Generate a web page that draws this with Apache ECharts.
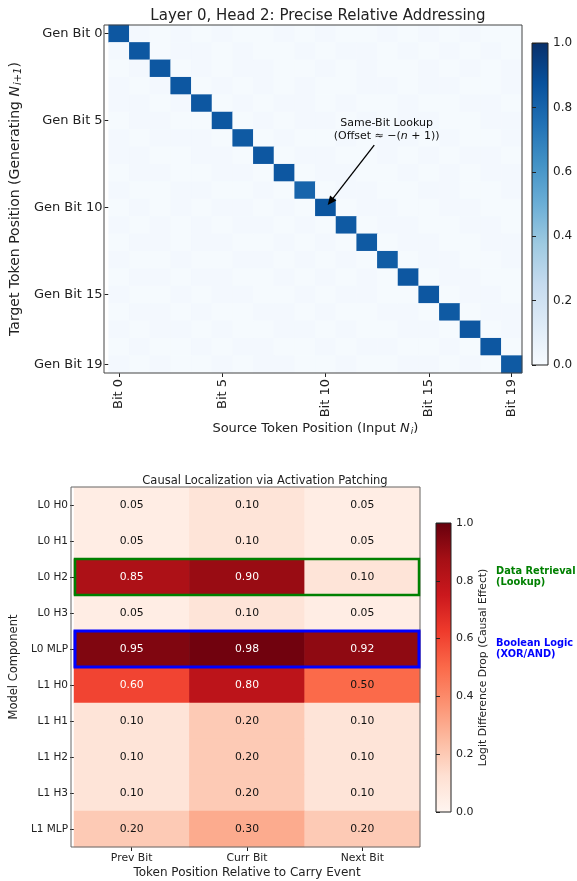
<!DOCTYPE html>
<html><head><meta charset="utf-8">
<script src="https://cdn.jsdelivr.net/npm/echarts@6/dist/echarts.min.js"></script>
<style>html,body{margin:0;padding:0;background:#fff}#c{width:577px;height:881px}</style>
</head><body><div id="c"></div>
<script>
// ---------- DATA ----------
const srcLabels = ["Bit 0","Bit 1","Bit 2","Bit 3","Bit 4","Bit 5","Bit 6","Bit 7","Bit 8","Bit 9","Bit 10","Bit 11","Bit 12","Bit 13","Bit 14","Bit 15","Bit 16","Bit 17","Bit 18","Bit 19"];
const tgtLabels = ["Gen Bit 0","Gen Bit 1","Gen Bit 2","Gen Bit 3","Gen Bit 4","Gen Bit 5","Gen Bit 6","Gen Bit 7","Gen Bit 8","Gen Bit 9","Gen Bit 10","Gen Bit 11","Gen Bit 12","Gen Bit 13","Gen Bit 14","Gen Bit 15","Gen Bit 16","Gen Bit 17","Gen Bit 18","Gen Bit 19"];
const shownTicks = [0,5,10,15,19];
// attention weights (rows = target, cols = source)
const attention = [
 [0.85,0.02,0.01,0.02,0.01,0.02,0.01,0.01,0.02,0.01,0.02,0.01,0.01,0.02,0.01,0.02,0.01,0.02,0.01,0.01],
 [0.02,0.85,0.01,0.02,0.02,0.01,0.02,0.01,0.01,0.02,0.01,0.02,0.02,0.01,0.02,0.01,0.02,0.01,0.02,0.01],
 [0.01,0.02,0.85,0.01,0.02,0.01,0.02,0.02,0.01,0.01,0.02,0.01,0.02,0.01,0.01,0.02,0.01,0.02,0.01,0.02],
 [0.02,0.01,0.02,0.85,0.01,0.02,0.01,0.02,0.01,0.02,0.01,0.01,0.02,0.02,0.01,0.02,0.02,0.01,0.01,0.02],
 [0.02,0.02,0.01,0.02,0.85,0.01,0.02,0.01,0.02,0.02,0.01,0.02,0.01,0.01,0.02,0.01,0.01,0.02,0.02,0.01],
 [0.01,0.02,0.02,0.01,0.01,0.85,0.01,0.02,0.01,0.02,0.02,0.01,0.02,0.01,0.02,0.02,0.01,0.01,0.02,0.02],
 [0.02,0.01,0.02,0.02,0.02,0.01,0.84,0.01,0.02,0.01,0.01,0.02,0.01,0.02,0.02,0.01,0.02,0.01,0.01,0.02],
 [0.02,0.02,0.01,0.01,0.02,0.02,0.01,0.85,0.01,0.02,0.02,0.01,0.01,0.02,0.01,0.02,0.01,0.02,0.02,0.01],
 [0.01,0.02,0.02,0.01,0.01,0.02,0.02,0.01,0.85,0.01,0.02,0.02,0.01,0.01,0.02,0.01,0.02,0.01,0.02,0.02],
 [0.02,0.01,0.01,0.02,0.02,0.01,0.01,0.02,0.01,0.80,0.01,0.02,0.02,0.01,0.01,0.02,0.02,0.01,0.01,0.02],
 [0.01,0.02,0.01,0.02,0.01,0.02,0.02,0.01,0.02,0.01,0.86,0.01,0.02,0.02,0.01,0.01,0.02,0.02,0.01,0.01],
 [0.02,0.01,0.02,0.01,0.02,0.01,0.02,0.02,0.01,0.02,0.01,0.84,0.01,0.02,0.02,0.01,0.01,0.02,0.02,0.01],
 [0.01,0.02,0.02,0.01,0.02,0.02,0.01,0.01,0.02,0.01,0.02,0.01,0.84,0.01,0.02,0.02,0.01,0.01,0.02,0.02],
 [0.02,0.01,0.01,0.02,0.01,0.01,0.02,0.02,0.01,0.02,0.01,0.02,0.01,0.83,0.01,0.02,0.02,0.01,0.01,0.02],
 [0.01,0.02,0.02,0.01,0.02,0.02,0.01,0.01,0.02,0.01,0.02,0.01,0.02,0.01,0.85,0.01,0.02,0.02,0.01,0.01],
 [0.02,0.01,0.01,0.02,0.01,0.02,0.02,0.01,0.01,0.02,0.01,0.02,0.02,0.01,0.01,0.85,0.01,0.02,0.02,0.01],
 [0.01,0.02,0.02,0.01,0.02,0.01,0.01,0.02,0.02,0.01,0.02,0.01,0.01,0.02,0.02,0.01,0.84,0.01,0.02,0.02],
 [0.02,0.01,0.02,0.02,0.01,0.02,0.01,0.01,0.02,0.02,0.01,0.02,0.01,0.01,0.02,0.02,0.01,0.85,0.01,0.02],
 [0.01,0.02,0.01,0.01,0.02,0.01,0.02,0.02,0.01,0.01,0.02,0.01,0.02,0.02,0.01,0.01,0.02,0.01,0.85,0.01],
 [0.02,0.01,0.02,0.01,0.01,0.02,0.01,0.02,0.02,0.01,0.01,0.02,0.01,0.01,0.02,0.02,0.01,0.02,0.01,0.84]
];
const posLabels = ["Prev Bit","Curr Bit","Next Bit"];
const compLabels = ["L0 H0","L0 H1","L0 H2","L0 H3","L0 MLP","L1 H0","L1 H1","L1 H2","L1 H3","L1 MLP"];
const causalEffect = [
 [0.05,0.10,0.05],
 [0.05,0.10,0.05],
 [0.85,0.90,0.10],
 [0.05,0.10,0.05],
 [0.95,0.98,0.92],
 [0.60,0.80,0.50],
 [0.10,0.20,0.10],
 [0.10,0.20,0.10],
 [0.10,0.20,0.10],
 [0.20,0.30,0.20]
];
const retrievalRow = 2, logicRow = 4;

// ---------- STYLE ----------
const FONT = "DejaVu Sans";
const BLUES = ['#f7fbff','#deebf7','#c6dbef','#9ecae1','#6baed6','#4292c6','#2171b5','#08519c','#08306b'];
const REDS  = ['#fff5f0','#fee0d2','#fcbba1','#fc9272','#fb6a4a','#ef3b2c','#cb181d','#a50f15','#67000d'];
function grad(cols){return {type:'linear',x:0,y:1,x2:0,y2:0,colorStops:cols.map((c,i)=>({offset:i/(cols.length-1),color:c}))};}

const G1 = {left:104, top:25, width:418, height:348};
const C1 = {left:532, top:43, width:16, height:322};
const G2 = {left:71, top:487, width:349, height:360};
const C2 = {left:436, top:523, width:15, height:289};

const topData = [];
attention.forEach((row,r)=>row.forEach((v,c)=>topData.push([c,r,v])));
const botData = [];
causalEffect.forEach((row,r)=>row.forEach((v,c)=>botData.push({value:[c,r,v],label:{color: v>0.5?'#ffffff':'#111111'}})));

const chart = echarts.init(document.getElementById('c'),null,{renderer:'canvas'});
function nameRich(fs){return {t:{fontSize:fs,color:'#222',fontFamily:FONT},i:{fontSize:fs,fontStyle:'italic',color:'#222',fontFamily:FONT},s:{fontSize:Math.round(fs*0.68),fontStyle:'italic',color:'#222',fontFamily:FONT,verticalAlign:'bottom',padding:[6,0,0,1]}};}

const option = {
  animation:false,
  textStyle:{fontFamily:FONT},
  title:[
    {text:'Layer 0, Head 2: Precise Relative Addressing', left:313, top:4, textAlign:'center',
     textStyle:{fontSize:15, fontWeight:'normal', color:'#222', fontFamily:FONT}},
    {text:'Causal Localization via Activation Patching', left:260, top:470, textAlign:'center',
     textStyle:{fontSize:11.5, fontWeight:'normal', color:'#222', fontFamily:FONT}}
  ],
  grid:[
    Object.assign({containLabel:false},G1),
    Object.assign({containLabel:false, show:true, backgroundColor:grad(BLUES), borderWidth:0},C1),
    Object.assign({containLabel:false},G2),
    Object.assign({containLabel:false, show:true, backgroundColor:grad(REDS), borderWidth:0},C2)
  ],
  xAxis:[
    {type:'category', gridIndex:0, data:srcLabels, position:'bottom',
     name:'{t|Source Token Position (Input }{i|N}{s|i}{t|)}', nameLocation:'middle', nameGap:48,
     nameTextStyle:{rich:nameRich(13)},
     axisLine:{show:false}, splitLine:{show:false},
     axisTick:{show:true, alignWithLabel:true, length:4, interval:(i)=>shownTicks.includes(i), lineStyle:{color:'#222'}},
     axisLabel:{rotate:90, margin:6, fontSize:13, color:'#222', fontFamily:FONT, interval:(i)=>shownTicks.includes(i)}},
    {type:'value', gridIndex:1, show:false, min:0, max:1},
    {type:'category', gridIndex:2, data:posLabels, position:'bottom',
     name:'Token Position Relative to Carry Event', nameLocation:'middle', nameGap:20,
     nameTextStyle:{fontSize:12, color:'#222', fontFamily:FONT},
     axisLine:{show:false}, splitLine:{show:false},
     axisTick:{show:true, alignWithLabel:true, length:4, lineStyle:{color:'#222'}},
     axisLabel:{margin:6, fontSize:10.8, color:'#222', fontFamily:FONT}},
    {type:'value', gridIndex:3, show:false, min:0, max:1}
  ],
  yAxis:[
    {type:'category', gridIndex:0, data:tgtLabels, inverse:true,
     name:'{t|Target Token Position (Generating }{i|N}{s|i+1}{t|)}', nameLocation:'middle', nameGap:78, nameRotate:90,
     nameTextStyle:{rich:nameRich(14)},
     axisLine:{show:false}, splitLine:{show:false},
     axisTick:{show:true, alignWithLabel:true, length:4, interval:(i)=>shownTicks.includes(i), lineStyle:{color:'#222'}},
     axisLabel:{margin:6, fontSize:13, color:'#222', fontFamily:FONT, interval:(i)=>shownTicks.includes(i)}},
    {type:'value', gridIndex:1, position:'right', min:0, max:1, interval:0.2,
     axisLine:{show:false}, splitLine:{show:false},
     axisTick:{show:true, length:4, lineStyle:{color:'#222'}},
     axisLabel:{margin:5, fontSize:12, color:'#222', fontFamily:FONT, formatter:(v)=>v.toFixed(1)}},
    {type:'category', gridIndex:2, data:compLabels, inverse:true,
     name:'Model Component', nameLocation:'middle', nameGap:51, nameRotate:90,
     nameTextStyle:{fontSize:11.5, color:'#222', fontFamily:FONT},
     axisLine:{show:false}, splitLine:{show:false},
     axisTick:{show:true, alignWithLabel:true, length:4, lineStyle:{color:'#222'}},
     axisLabel:{margin:6, fontSize:10.5, color:'#222', fontFamily:FONT}},
    {type:'value', gridIndex:3, position:'right', min:0, max:1, interval:0.2,
     name:'Logit Difference Drop (Causal Effect)', nameLocation:'middle', nameGap:27, nameRotate:90,
     nameTextStyle:{fontSize:10.8, color:'#222', fontFamily:FONT},
     axisLine:{show:false}, splitLine:{show:false},
     axisTick:{show:true, length:4, lineStyle:{color:'#222'}},
     axisLabel:{margin:5, fontSize:11, color:'#222', fontFamily:FONT, formatter:(v)=>v.toFixed(1)}}
  ],
  visualMap:[
    {type:'continuous', show:false, min:0, max:1, seriesIndex:0, dimension:2, inRange:{color:BLUES}},
    {type:'continuous', show:false, min:0, max:1, seriesIndex:1, dimension:2, inRange:{color:REDS}}
  ],
  series:[
    {type:'heatmap', xAxisIndex:0, yAxisIndex:0, data:topData, itemStyle:{borderWidth:0}},
    {type:'heatmap', xAxisIndex:2, yAxisIndex:2, data:botData, itemStyle:{borderWidth:0},
     label:{show:true, fontSize:10.8, fontFamily:FONT, formatter:(p)=>p.value[2].toFixed(2)}}
  ]
};
chart.setOption(option);

// ---------- overlays positioned through the axes ----------
function cellPix(ax, cx, cy){
  const x0 = chart.convertToPixel({xAxisIndex:ax.x}, ax.xcats[0]);
  const x1 = chart.convertToPixel({xAxisIndex:ax.x}, ax.xcats[1]);
  const y0 = chart.convertToPixel({yAxisIndex:ax.y}, ax.ycats[0]);
  const y1 = chart.convertToPixel({yAxisIndex:ax.y}, ax.ycats[1]);
  return [x0+(x1-x0)*cx, y0+(y1-y0)*cy];
}
const topAx = {x:0, y:0, xcats:[srcLabels[0],srcLabels[1]], ycats:[tgtLabels[0],tgtLabels[1]]};
const botAx = {x:2, y:2, xcats:[posLabels[0],posLabels[1]], ycats:[compLabels[0],compLabels[1]]};

const arrowTo = cellPix(topAx, 10.1, 9.85);
const arrowFrom = cellPix(topAx, 12.35, 6.4);
const ang = Math.atan2(arrowTo[1]-arrowFrom[1], arrowTo[0]-arrowFrom[0]);
const hl = 9, hw = 4;
const head = [
  arrowTo,
  [arrowTo[0]-hl*Math.cos(ang)+hw*Math.sin(ang), arrowTo[1]-hl*Math.sin(ang)-hw*Math.cos(ang)],
  [arrowTo[0]-hl*Math.cos(ang)-hw*Math.sin(ang), arrowTo[1]-hl*Math.sin(ang)+hw*Math.cos(ang)]
];
const annPos = cellPix(topAx, 12.95, 5.5);

function rowRect(ax, row, color, lw){
  const a = cellPix(ax, -0.5, row-0.5), b = cellPix(ax, 2.5, row+0.5);
  return {type:'rect', z:100, shape:{x:a[0]+1, y:a[1], width:b[0]-a[0]-2, height:b[1]-a[1]},
          style:{fill:null, stroke:color, lineWidth:lw}};
}
const r2a = cellPix(botAx, 2.5, retrievalRow), r4a = cellPix(botAx, 2.5, logicRow);

const frame = (g,c)=>({type:'rect', z:90, shape:{x:g.left, y:g.top, width:g.width, height:g.height}, style:{fill:null, stroke:c, lineWidth:1}});

chart.setOption({graphic:[
  frame(G1,'#444'), frame(C1,'#222'), frame(G2,'#666'), frame(C2,'#222'),
  {type:'line', z:100, shape:{x1:arrowFrom[0], y1:arrowFrom[1], x2:arrowTo[0]-6*Math.cos(ang), y2:arrowTo[1]-6*Math.sin(ang)}, style:{stroke:'#000', lineWidth:1.3}},
  {type:'polygon', z:100, shape:{points:head}, style:{fill:'#000'}},
  {type:'text', z:100, x:annPos[0], y:annPos[1], style:{
     text:'{t|Same-Bit Lookup}\n{t|(Offset ≈ −(}{i|n}{t| + 1))}', align:'center', verticalAlign:'middle',
     rich:{t:{fontSize:11, fontFamily:FONT, fill:'#111', lineHeight:13}, i:{fontSize:11, fontFamily:FONT, fontStyle:'italic', fill:'#111', lineHeight:13}}}},
  rowRect(botAx, retrievalRow, '#008000', 2.5),
  rowRect(botAx, logicRow, '#0000ff', 3),
  {type:'text', z:100, x:496, y:r2a[1], style:{text:'Data Retrieval\n(Lookup)', align:'left', verticalAlign:'middle', fontSize:9.8, fontWeight:'bold', fontFamily:FONT, fill:'#008000', lineHeight:11.5}},
  {type:'text', z:100, x:496, y:r4a[1], style:{text:'Boolean Logic\n(XOR/AND)', align:'left', verticalAlign:'middle', fontSize:9.8, fontWeight:'bold', fontFamily:FONT, fill:'#0000ff', lineHeight:11.5}}
]});
</script>
</body></html>
